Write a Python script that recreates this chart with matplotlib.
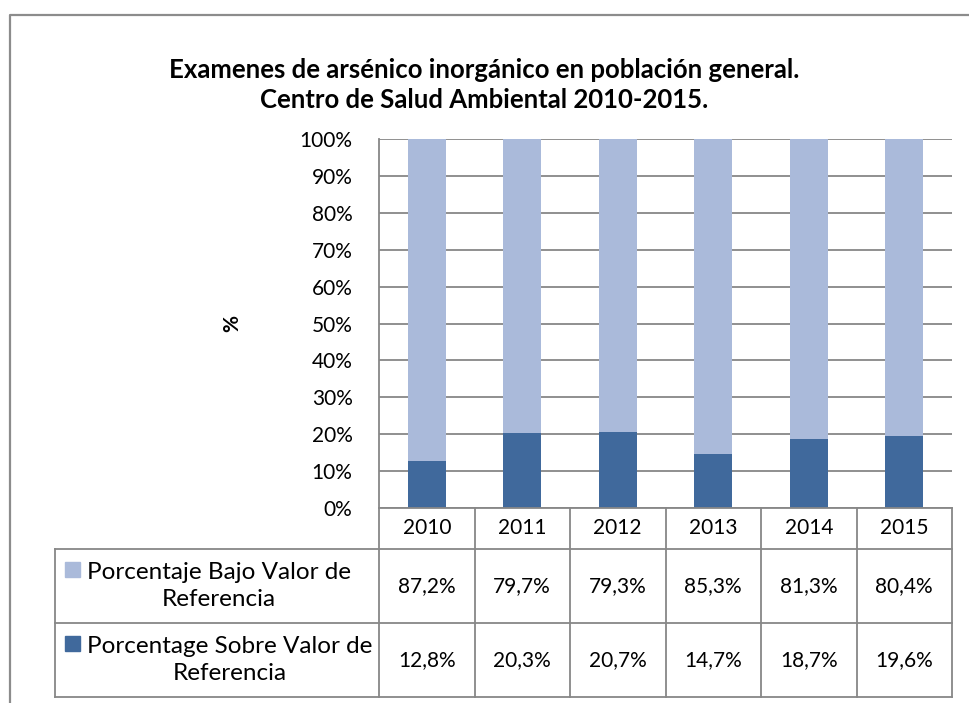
import matplotlib.pyplot as plt
import matplotlib.transforms as mtransforms
from matplotlib.lines import Line2D
from matplotlib.patches import Rectangle

years = ['2010', '2011', '2012', '2013', '2014', '2015']
bajo = [87.2, 79.7, 79.3, 85.3, 81.3, 80.4]
sobre = [12.8, 20.3, 20.7, 14.7, 18.7, 19.6]
labels = ['Porcentaje Bajo Valor de\nReferencia',
          'Porcentage Sobre Valor de\nReferencia']
colors = ['#AABADA', '#40699C']
title = 'Examenes de arsénico inorgánico en población general.\nCentro de Salud Ambiental 2010-2015.'

W, H = 969, 703
GRID = '#878787'
plt.rcParams['font.family'] = ['Lato', 'DejaVu Sans']

fig = plt.figure(figsize=(W / 100, H / 100), dpi=100)


def fy(y):
    return 1 - y / H


# plot area in pixels
left, right, top, bottom = 379, 952, 139, 508
ax = fig.add_axes([left / W, fy(bottom), (right - left) / W, (bottom - top) / H])

x = list(range(len(years)))
ax.bar(x, sobre, width=0.4, color=colors[1], zorder=2)
ax.bar(x, bajo, width=0.4, bottom=sobre, color=colors[0], zorder=2)

ax.set_xlim(-0.5, len(years) - 0.5)
ax.set_ylim(0, 100)
ax.set_yticks(range(0, 101, 10))
ax.set_yticklabels([f'{t}%' for t in range(0, 101, 10)], fontsize=15)
ax.tick_params(axis='y', length=0, pad=19)
ax.set_xticks([])
ax.set_axisbelow(True)
ax.yaxis.grid(True, color=GRID, linewidth=1.3)
for s in ['top', 'right', 'bottom']:
    ax.spines[s].set_visible(False)
ax.spines['left'].set_color(GRID)
ax.spines['left'].set_linewidth(1.3)

# data table below the plot (x in data units, y in figure fraction)
tr = mtransforms.blended_transform_factory(ax.transData, fig.transFigure)
row_y = [508, 549, 623, 697]
leg_left = -0.5 - (left - 55) / ((right - left) / len(years))
n = len(years)


def hline(x0, x1, y):
    ax.add_line(Line2D([x0, x1], [fy(y), fy(y)], transform=tr, color=GRID,
                       linewidth=1.3, clip_on=False))


def vline(xv, y0, y1):
    ax.add_line(Line2D([xv, xv], [fy(y0), fy(y1)], transform=tr, color=GRID,
                       linewidth=1.3, clip_on=False))


for y in row_y[1:]:
    hline(leg_left, n - 0.5, y)
hline(-0.5, n - 0.5, row_y[0])
vline(-0.5, row_y[0], row_y[-1])
vline(leg_left, row_y[1], row_y[-1])
for i in range(n):
    vline(i + 0.5, row_y[0], row_y[-1])

for i, yr in enumerate(years):
    ax.text(i, fy((row_y[0] + row_y[1]) / 2), yr, transform=tr,
            ha='center', va='center', fontsize=15)
    for r, vals in enumerate([bajo, sobre]):
        ymid = (row_y[r + 1] + row_y[r + 2]) / 2
        ax.text(i, fy(ymid), f'{vals[i]:.1f}%'.replace('.', ','), transform=tr,
                ha='center', va='center', fontsize=15)

# legend cells
for r in range(2):
    ymid = (row_y[r + 1] + row_y[r + 2]) / 2
    fig.text(87 / W, fy(ymid), labels[r], ha='left', va='center',
             multialignment='center', fontsize=17.5, linespacing=1.4)
    sq_top = row_y[r + 1] + 13
    fig.patches.append(Rectangle((65 / W, fy(sq_top + 15)), 15 / W, 15 / H,
                                 transform=fig.transFigure, color=colors[r]))

fig.text(232 / W, fy((top + bottom) / 2), '%', rotation=90, ha='center',
         va='center', fontsize=15, fontweight='bold')
fig.text(0.5, fy(85), title, ha='center', va='center', fontsize=18.5,
         fontweight='bold', linespacing=1.35)

# outer chart frame (runs off the right and bottom edge)
fig.add_artist(Line2D([10 / W, 10 / W, 1], [0, fy(15), fy(15)],
                      transform=fig.transFigure, color='#8C8C8C', linewidth=1.6))

fig.savefig('out.png', dpi=100)
